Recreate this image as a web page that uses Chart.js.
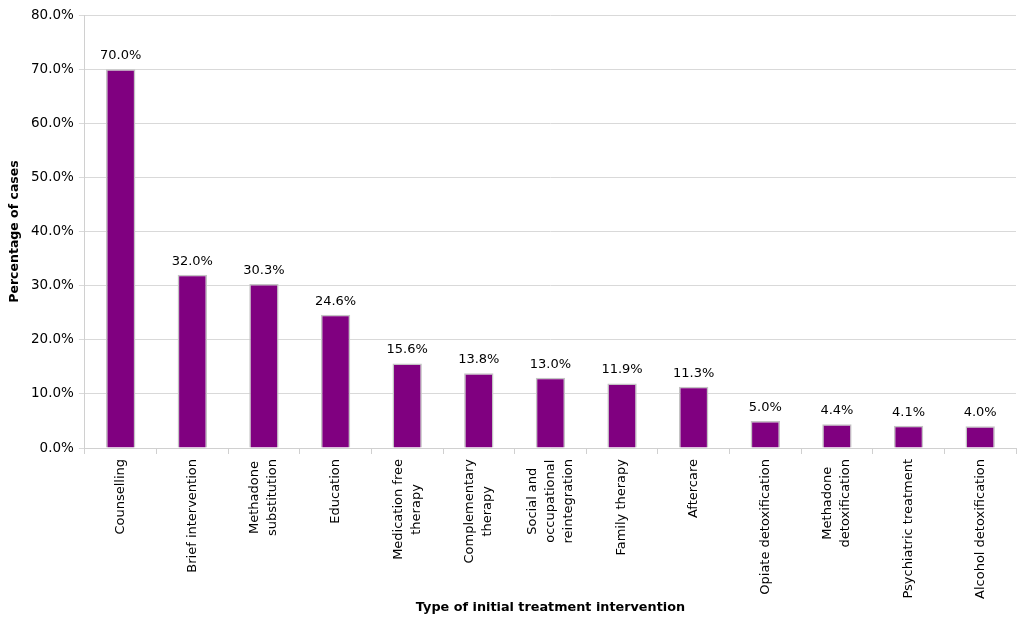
<!DOCTYPE html>
<html>
<head>
<meta charset="utf-8">
<script src="https://cdn.jsdelivr.net/npm/chart.js@4"></script>
<style>
  body { margin: 0; background: #fff; }
  #wrap { width: 1026px; height: 621px; }
</style>
</head>
<body>
<div id="wrap"><canvas id="treatmentChart" width="1026" height="621"></canvas></div>
<script>
const interventions = [
    'Counselling',
    'Brief intervention',
    ['Methadone', 'substitution'],
    'Education',
    ['Medication free', 'therapy'],
    ['Complementary', 'therapy'],
    ['Social and', 'occupational', 'reintegration'],
    'Family therapy',
    'Aftercare',
    'Opiate detoxification',
    ['Methadone', 'detoxification'],
    'Psychiatric treatment',
    'Alcohol detoxification'
];
const caseShares = [70.0, 32.0, 30.3, 24.6, 15.6, 13.8, 13.0, 11.9, 11.3, 5.0, 4.4, 4.1, 4.0];
const yTicks = [0, 10, 20, 30, 40, 50, 60, 70, 80];

const FONT = 'DejaVu Sans, Verdana, sans-serif';
const LABEL_SIZE = 13;

// writes the percentage above each bar
const valueLabels = {
    id: 'valueLabels',
    afterDatasetsDraw(chart) {
        const ctx = chart.ctx;
        const meta = chart.getDatasetMeta(0);
        ctx.save();
        ctx.font = LABEL_SIZE + 'px ' + FONT;
        ctx.fillStyle = '#000';
        ctx.textAlign = 'center';
        ctx.textBaseline = 'bottom';
        meta.data.forEach((bar, i) => {
            ctx.fillText(caseShares[i].toFixed(1) + '%', bar.x, bar.y - 7);
        });
        ctx.restore();
    }
};

// vertical category labels, lines centred on each other and hung from the axis
const categoryLabels = {
    id: 'categoryLabels',
    afterDraw(chart) {
        const ctx = chart.ctx;
        const xScale = chart.scales.x;
        const top = xScale.top + 11;
        const lineGap = 18;
        ctx.save();
        ctx.font = LABEL_SIZE + 'px ' + FONT;
        ctx.fillStyle = '#000';
        ctx.textAlign = 'center';
        ctx.textBaseline = 'middle';
        interventions.forEach((label, i) => {
            const lines = Array.isArray(label) ? label : [label];
            const widest = Math.max(...lines.map(l => ctx.measureText(l).width));
            const x = xScale.getPixelForValue(i);
            ctx.save();
            ctx.translate(x, top);
            ctx.rotate(-Math.PI / 2);
            lines.forEach((line, j) => {
                ctx.fillText(line, -widest / 2, (j - (lines.length - 1) / 2) * lineGap);
            });
            ctx.restore();
        });
        ctx.restore();
    }
};

new Chart(document.getElementById('treatmentChart'), {
    type: 'bar',
    data: {
        labels: interventions,
        datasets: [{
            data: caseShares,
            backgroundColor: '#800080',
            borderColor: '#c4c4c4',
            borderWidth: 1.5,
            categoryPercentage: 1,
            barPercentage: 0.41
        }]
    },
    options: {
        responsive: false,
        animation: false,
        layout: { padding: { top: 15, right: 10, left: 7, bottom: 6 } },
        plugins: {
            legend: { display: false },
            tooltip: { enabled: false }
        },
        scales: {
            x: {
                afterFit: (axis) => { axis.height = 167; },
                grid: {
                    drawOnChartArea: false,
                    drawTicks: true,
                    tickLength: 6,
                    color: '#d0d0d0'
                },
                border: { color: '#d0d0d0' },
                ticks: {
                    minRotation: 90,
                    maxRotation: 90,
                    autoSkip: false,
                    color: 'rgba(0,0,0,0)',
                    padding: 0,
                    font: { family: FONT, size: LABEL_SIZE }
                },
                title: {
                    display: true,
                    text: 'Type of initial treatment intervention',
                    color: '#000',
                    font: { family: FONT, size: 12.8, weight: 'bold' },
                    padding: { top: 0, bottom: 0 }
                }
            },
            y: {
                min: 0,
                max: 80,
                afterBuildTicks: (axis) => {
                    axis.ticks = yTicks.map(v => ({ value: v }));
                },
                grid: {
                    color: '#d9d9d9',
                    tickLength: 6
                },
                border: { color: '#d0d0d0' },
                ticks: {
                    color: '#000',
                    padding: 5,
                    font: { family: FONT, size: 13.5 },
                    callback: (value) => value.toFixed(1) + '%'
                },
                title: {
                    display: true,
                    text: 'Percentage of cases',
                    color: '#000',
                    font: { family: FONT, size: 12.5, weight: 'bold' },
                    padding: { top: 0, bottom: 4 }
                }
            }
        }
    },
    plugins: [valueLabels, categoryLabels]
});
</script>
</body>
</html>
